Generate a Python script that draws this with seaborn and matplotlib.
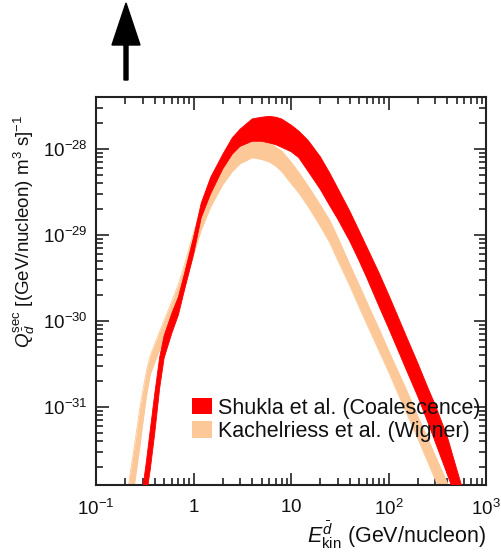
import numpy as np
import matplotlib
matplotlib.use("Agg")
import matplotlib.pyplot as plt
import matplotlib.ticker as mticker
from matplotlib.patches import Patch
import seaborn as sns

# ---------------- data (log10 units on the log axis) ----------------
energy = [0.2, 0.22, 0.25, 0.28, 0.3, 0.33, 0.36, 0.4, 0.45, 0.5, 0.6, 0.7, 0.8, 1.0, 1.2, 1.5,
          2, 2.5, 3, 4, 5, 6, 7, 8, 10, 12, 15, 20, 25, 30, 40, 50, 60, 80, 100, 120, 150,
          200, 250, 300, 400, 500, 600, 700]

shukla_hi_log10 = [-34.0, -33.5, -33.0, -32.20, -31.97, -31.62, -31.27, -30.85, -30.42, -30.17,
                   -29.91, -29.72, -29.47, -29.03, -28.63, -28.33, -28.06, -27.87, -27.77, -27.65,
                   -27.63, -27.62, -27.63, -27.65, -27.72, -27.79, -27.90, -28.09, -28.28, -28.45,
                   -28.72, -28.95, -29.14, -29.44, -29.69, -29.90, -30.16, -30.49, -30.76, -30.97,
                   -31.34, -31.72, -32.02, -32.31]
shukla_lo_log10 = [-34.5, -34.0, -33.5, -32.66, -32.37, -32.02, -31.73, -31.31, -30.78, -30.43,
                   -30.14, -29.93, -29.66, -29.23, -28.80, -28.52, -28.23, -28.06, -27.97, -27.91,
                   -27.91, -27.93, -27.95, -27.98, -28.03, -28.10, -28.26, -28.47, -28.66, -28.81,
                   -29.07, -29.30, -29.50, -29.83, -30.08, -30.29, -30.55, -30.88, -31.16, -31.40,
                   -31.78, -32.08, -32.37, -32.66]

kachel_hi_log10 = [-32.31, -31.83, -31.42, -31.03, -30.83, -30.57, -30.40, -30.27, -30.12, -29.99,
                   -29.77, -29.57, -29.36, -28.97, -28.69, -28.44, -28.20, -28.06, -27.97, -27.91,
                   -27.91, -27.93, -27.98, -28.02, -28.15, -28.27, -28.43, -28.65, -28.83, -29.02,
                   -29.34, -29.58, -29.78, -30.09, -30.34, -30.54, -30.78, -31.11, -31.35, -31.56,
                   -31.88, -32.14, -32.35, -32.52]
kachel_lo_log10 = [-32.78, -32.26, -31.87, -31.48, -31.21, -30.86, -30.62, -30.48, -30.33, -30.20,
                   -30.00, -29.81, -29.63, -29.23, -28.94, -28.67, -28.41, -28.26, -28.17, -28.10,
                   -28.12, -28.15, -28.20, -28.26, -28.40, -28.51, -28.67, -28.90, -29.09, -29.29,
                   -29.59, -29.84, -30.04, -30.35, -30.59, -30.80, -31.05, -31.37, -31.63, -31.84,
                   -32.16, -32.43, -32.64, -32.81]

series_labels = ["Shukla et al. (Coalescence)", "Kachelriess et al. (Wigner)"]
series_colors = ["#FF0000", "#FDC898"]

x_tick_values = [0.1, 1, 10, 100, 1000]
x_tick_labels = [r"$10^{-1}$", r"$1$", r"$10$", r"$10^{2}$", r"$10^{3}$"]
y_tick_values = [1e-31, 1e-30, 1e-29, 1e-28]
y_tick_labels = [r"$10^{-31}$", r"$10^{-30}$", r"$10^{-29}$", r"$10^{-28}$"]

xlim = (0.1, 1000)
ylim = (10 ** -31.907, 10 ** -27.395)

# ---------------- style ----------------
sns.set_theme(style="ticks")
plt.rcParams["font.family"] = ["Liberation Sans", "DejaVu Sans"]
plt.rcParams["mathtext.fontset"] = "custom"
plt.rcParams["mathtext.rm"] = "Liberation Sans"
plt.rcParams["mathtext.it"] = "Liberation Sans:italic"
plt.rcParams["mathtext.bf"] = "Liberation Sans:bold"

W, H = 501, 552
fig = plt.figure(figsize=(W / 100, H / 100), dpi=100)
ax = fig.add_axes([96 / W, 1 - 485 / H, 390 / W, 388 / H])

E = np.array(energy)
bands = [
    (np.power(10.0, shukla_lo_log10), np.power(10.0, shukla_hi_log10)),
    (np.power(10.0, kachel_lo_log10), np.power(10.0, kachel_hi_log10)),
]
# draw Kachelriess first (underneath), then Shukla on top
for idx in [1, 0]:
    lo, hi = bands[idx]
    z = 2 + (1 - idx)
    ax.fill_between(E, lo, hi, color=series_colors[idx], linewidth=0, zorder=z)
    sns.lineplot(x=E, y=lo, ax=ax, color=series_colors[idx], linewidth=0.6, zorder=z, legend=False)
    sns.lineplot(x=E, y=hi, ax=ax, color=series_colors[idx], linewidth=0.6, zorder=z, legend=False)

ax.set_xscale("log")
ax.set_yscale("log")
ax.set_xlim(*xlim)
ax.set_ylim(*ylim)

ax.xaxis.set_major_locator(mticker.FixedLocator(x_tick_values))
ax.xaxis.set_major_formatter(mticker.FixedFormatter(x_tick_labels))
ax.xaxis.set_minor_locator(mticker.LogLocator(base=10, subs=np.arange(2, 10)))
ax.xaxis.set_minor_formatter(mticker.NullFormatter())
ax.yaxis.set_major_locator(mticker.FixedLocator(y_tick_values))
ax.yaxis.set_major_formatter(mticker.FixedFormatter(y_tick_labels))
ax.yaxis.set_minor_locator(mticker.LogLocator(base=10, subs=np.arange(2, 10)))
ax.yaxis.set_minor_formatter(mticker.NullFormatter())

ax.tick_params(which="both", direction="in", top=True, right=True, colors="#222222", width=1.2)
ax.tick_params(which="major", length=9)
ax.tick_params(which="minor", length=5)
ax.tick_params(axis="both", which="major", labelsize=13.5, labelcolor="#111111")
ax.tick_params(axis="x", which="major", pad=10)
ax.tick_params(axis="y", which="major", pad=6)
for s in ax.spines.values():
    s.set_linewidth(1.5)
    s.set_color("#222222")

ax.set_xlabel(r"$E^{\bar{d}}_{\rm kin}$ (GeV/nucleon)", fontsize=15.5, loc="right", color="#111111")
ax.xaxis.set_label_coords(1.0, -0.087)
ax.set_ylabel(r"$Q^{\rm sec}_{\bar{d}}$ [(GeV/nucleon) m$^{3}$ s]$^{-1}$", fontsize=13.5, loc="top",
              color="#111111")
ax.yaxis.set_label_coords(-0.15, 0.955)

handles = [Patch(facecolor=series_colors[0], edgecolor="none"),
           Patch(facecolor=series_colors[1], edgecolor="none")]
leg = ax.legend(handles, series_labels, loc="center left", bbox_to_anchor=(0.246, 0.168),
                frameon=False, fontsize=15.5, handlelength=0.95, handleheight=0.8,
                handletextpad=0.25, labelspacing=0.12, borderpad=0, borderaxespad=0)
for t in leg.get_texts():
    t.set_color("#111111")
leg.set_zorder(10)

# arrow above the plot
over = fig.add_axes([0, 0, 1, 1], facecolor="none")
over.set_xlim(0, W)
over.set_ylim(0, H)
over.axis("off")
over.arrow(126, H - 80, 0, 77, width=4, head_width=28, head_length=42,
           length_includes_head=True, color="black")

fig.savefig("out.png", dpi=100)
